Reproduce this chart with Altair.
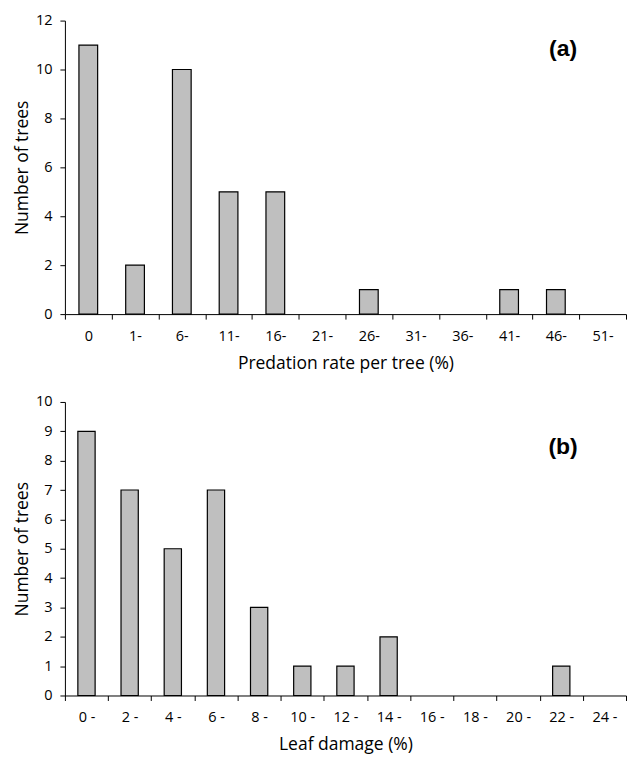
import altair as alt
import pandas as pd

cats_a = ["0", "1-", "6-", "11-", "16-", "21-", "26-", "31-", "36-", "41-", "46-", "51-"]
vals_a = [11, 2, 10, 5, 5, 0, 1, 0, 0, 1, 1, 0]
cats_b = ["0 -", "2 -", "4 -", "6 -", "8 -", "10 -", "12 -", "14 -", "16 -", "18 -", "20 -", "22 -", "24 -"]
vals_b = [9, 7, 5, 7, 3, 1, 1, 2, 0, 0, 0, 1, 0]

FONT = "Open Sans"
W = 562
H = 294
LBL = 14.5
TTL = 17.5


def panel(cats, vals, xtitle, ymax, ystep, label, label_y):
    df = pd.DataFrame({"cat": cats, "n": vals})
    bars = alt.Chart(df).transform_filter("datum.n > 0").mark_bar(
        fill="#bfbfbf", stroke="black", strokeWidth=1.2, width={"band": 0.4}
    ).encode(
        x=alt.X(
            "cat:N",
            sort=cats,
            scale=alt.Scale(domain=cats, paddingInner=0, paddingOuter=0),
            axis=alt.Axis(
                title=xtitle,
                labelAngle=0,
                tickBand="extent",
                tickSize=5,
                tickColor="black",
                domainColor="black",
                labelColor="black",
                titleColor="black",
                labelFont=FONT,
                titleFont=FONT,
                labelFontSize=LBL,
                titleFontSize=TTL,
                titleFontWeight="normal",
                labelPadding=10,
                titlePadding=12,
            ),
        ),
        y=alt.Y(
            "n:Q",
            scale=alt.Scale(domain=[0, ymax], nice=False),
            axis=alt.Axis(
                title="Number of trees",
                values=list(range(0, ymax + 1, ystep)),
                grid=False,
                tickSize=5,
                tickColor="black",
                domainColor="black",
                labelColor="black",
                titleColor="black",
                labelFont=FONT,
                titleFont=FONT,
                labelFontSize=LBL,
                titleFontSize=TTL,
                titleFontWeight="normal",
                labelPadding=8,
                titlePadding=4,
            ),
        ),
    )
    txt = alt.Chart(pd.DataFrame({"t": [label]})).mark_text(
        font="Liberation Sans", fontSize=23, fontWeight="bold", align="center", baseline="middle"
    ).encode(text="t:N", x=alt.value(499), y=alt.value(label_y))
    return alt.layer(bars, txt).properties(width=W, height=H)


top = panel(cats_a, vals_a, "Predation rate per tree (%)", 12, 2, "(a)", 28)
bot = panel(cats_b, vals_b, "Leaf damage (%)", 10, 1, "(b)", 45)

chart = (
    alt.vconcat(top, bot, spacing=22)
    .configure_view(stroke=None)
    .properties(padding={"left": 5, "top": 4, "right": 0, "bottom": 0})
)
chart.save("out.html", embed_options={"renderer": "svg", "actions": False})
